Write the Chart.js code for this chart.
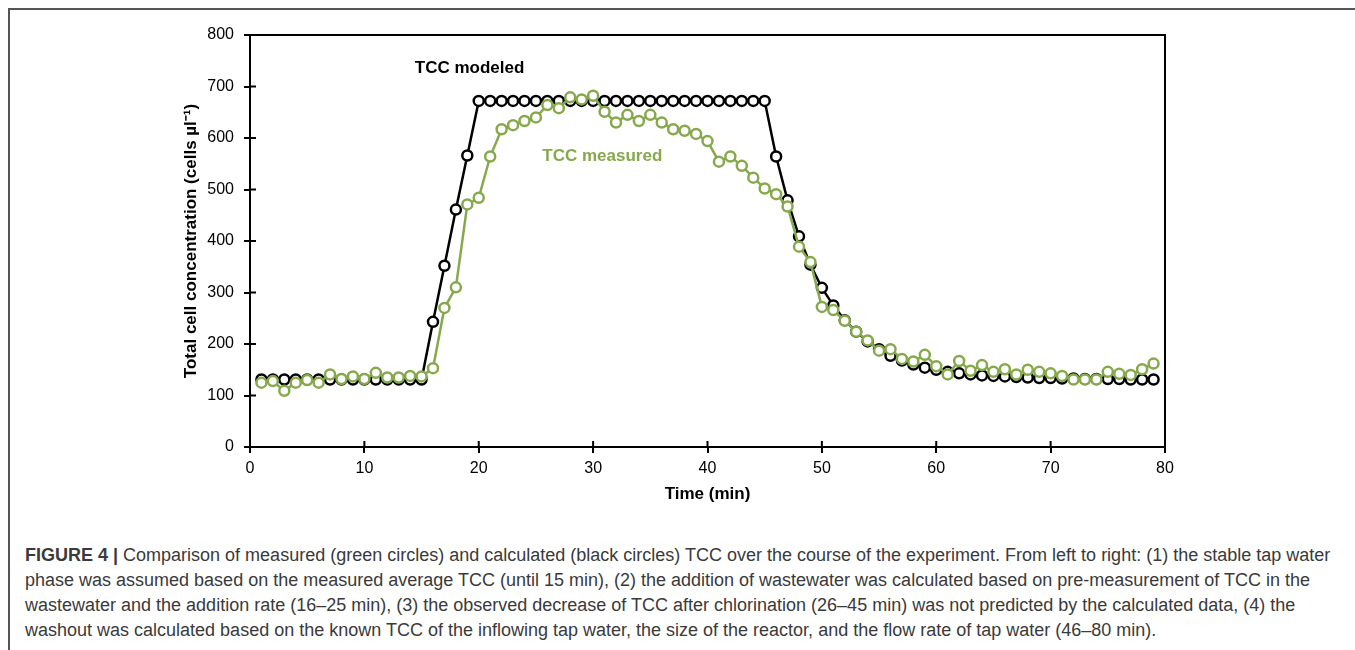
<!DOCTYPE html>
<html>
<head>
<meta charset="utf-8">
<script src="https://cdn.jsdelivr.net/npm/chart.js@4.4.0/dist/chart.umd.min.js"></script>
<style>
  body { margin: 0; background: #fff; }
  #frame { position: absolute; left: 8px; top: 8px; width: 1347px; height: 642px;
           border-top: 2px solid #555; border-left: 2px solid #555; }
  #wrap { position: absolute; left: 0; top: 0; width: 1355px; height: 520px; }
  #caption { position: absolute; left: 25px; top: 543px; font-family: "Liberation Sans", Arial, sans-serif;
             font-size: 18px; line-height: 25px; color: #3a3a3a; }
  #caption div { white-space: nowrap; }
</style>
</head>
<body>
<div id="frame"></div>
<div id="wrap"><canvas id="grafico"></canvas></div>
<div id="caption">
  <div><b>FIGURE 4 |</b> Comparison of measured (green circles) and calculated (black circles) TCC over the course of the experiment. From left to right: (1) the stable tap water</div>
  <div>phase was assumed based on the measured average TCC (until 15 min), (2) the addition of wastewater was calculated based on pre-measurement of TCC in the</div>
  <div>wastewater and the addition rate (16–25 min), (3) the observed decrease of TCC after chlorination (26–45 min) was not predicted by the calculated data, (4) the</div>
  <div>washout was calculated based on the known TCC of the inflowing tap water, the size of the reactor, and the flow rate of tap water (46–80 min).</div>
</div>
<script>
const minutos = [1,2,3,4,5,6,7,8,9,10,11,12,13,14,15,16,17,18,19,20,
  21,22,23,24,25,26,27,28,29,30,31,32,33,34,35,36,37,38,39,40,
  41,42,43,44,45,46,47,48,49,50,51,52,53,54,55,56,57,58,59,60,
  61,62,63,64,65,66,67,68,69,70,71,72,73,74,75,76,77,78,79];

const tccModelado = [131,131,131,131,131,131,131,131,131,131,131,131,131,131,131,
  243,352,461,566,
  672,672,672,672,672,672,672,672,672,672,672,672,672,672,672,672,672,672,672,672,672,672,672,672,672,672,
  564,479,409,354,309,275,246,224,205,190,177,168,160,154,150,146,143,141,139,138,
  137,136,135,134,134,133,133,132,132,132,132,131,131,131];

const tccMedido = [125,128,109,125,130,125,141,132,137,132,144,135,135,138,137,153,270,310,471,484,
  564,617,625,633,640,664,658,679,675,682,651,630,645,633,645,630,617,614,608,594,
  554,564,546,523,502,491,467,389,359,272,266,245,224,207,187,190,171,166,179,157,
  141,167,148,159,146,151,141,150,146,143,138,131,131,131,146,142,140,151,162];

const ticksX = [0,10,20,30,40,50,60,70,80];
const ticksY = [0,100,200,300,400,500,600,700,800];

const verde = "#86a94c";

function pontos(valores) {
  return minutos.map((m, i) => ({ x: m, y: valores[i] }));
}

// caixa do grafico, ticks cruzando o eixo e os rotulos das series
const extras = {
  id: "extras",
  afterDatasetsDraw(chart) {
    const ctx = chart.ctx;
    const a = chart.chartArea;
    const sx = chart.scales.x, sy = chart.scales.y;
    ctx.save();
    ctx.strokeStyle = "#000";
    ctx.lineWidth = 2;
    ctx.strokeRect(a.left, a.top, a.right - a.left, a.bottom - a.top);
    ctx.beginPath();
    ticksX.forEach(v => {
      const px = sx.getPixelForValue(v);
      ctx.moveTo(px, a.bottom);
      ctx.lineTo(px, a.bottom - 6);
    });
    ticksY.forEach(v => {
      const py = sy.getPixelForValue(v);
      ctx.moveTo(a.left, py);
      ctx.lineTo(a.left + 6, py);
    });
    ctx.stroke();

    ctx.font = "bold 17px 'Liberation Sans', Arial, sans-serif";
    ctx.textAlign = "center";
    ctx.textBaseline = "middle";
    ctx.fillStyle = "#000";
    ctx.fillText("TCC modeled", sx.getPixelForValue(19.2), sy.getPixelForValue(736));
    ctx.fillStyle = verde;
    ctx.fillText("TCC measured", sx.getPixelForValue(30.8), sy.getPixelForValue(565));
    ctx.restore();
  }
};

function plotarGrafico(idGrafico) {
  const ctx = document.getElementById(idGrafico).getContext("2d");
  new Chart(ctx, {
    type: "line",
    data: {
      datasets: [
        {
          label: "TCC measured",
          data: pontos(tccMedido),
          borderColor: verde,
          backgroundColor: "#fff",
          pointBorderColor: verde,
          pointBackgroundColor: "#fff",
          borderWidth: 2.5,
          pointBorderWidth: 2.5,
          pointRadius: 5,
          tension: 0,
        },
        {
          label: "TCC modeled",
          data: pontos(tccModelado),
          borderColor: "#000",
          backgroundColor: "#fff",
          pointBorderColor: "#000",
          pointBackgroundColor: "#fff",
          borderWidth: 2.5,
          pointBorderWidth: 2.5,
          pointRadius: 5,
          tension: 0,
        },
      ],
    },
    options: {
      responsive: true,
      maintainAspectRatio: false,
      animation: false,
      layout: { padding: { left: 170, right: 190, top: 35, bottom: 13 } },
      plugins: { legend: { display: false }, tooltip: { enabled: false } },
      scales: {
        x: {
          type: "linear",
          min: 0,
          max: 80,
          afterFit: s => { s.height = 60; },
          afterBuildTicks: s => { s.ticks = ticksX.map(v => ({ value: v })); },
          grid: { drawOnChartArea: false, color: "#000", tickLength: 6, lineWidth: 2 },
          border: { color: "#000", width: 2 },
          ticks: { color: "#000", padding: 6, maxRotation: 0,
                   font: { family: "'Liberation Sans', Arial, sans-serif", size: 16 } },
          title: { display: true, text: "Time (min)", color: "#000", padding: { top: 0, bottom: 2 },
                   font: { family: "'Liberation Sans', Arial, sans-serif", size: 17, weight: "bold" } },
        },
        y: {
          min: 0,
          max: 800,
          afterFit: s => { s.width = 80; },
          afterBuildTicks: s => { s.ticks = ticksY.map(v => ({ value: v })); },
          grid: { drawOnChartArea: false, color: "#000", tickLength: 6, lineWidth: 2 },
          border: { color: "#000", width: 2 },
          ticks: { color: "#000", padding: 10,
                   font: { family: "'Liberation Sans', Arial, sans-serif", size: 16 } },
          title: { display: true, text: "Total cell concentration (cells µl⁻¹)", color: "#000",
                   padding: { top: 11, bottom: 0 },
                   font: { family: "'Liberation Sans', Arial, sans-serif", size: 17, weight: "bold" } },
        },
      },
    },
    plugins: [extras],
  });
}

plotarGrafico("grafico");
</script>
</body>
</html>
